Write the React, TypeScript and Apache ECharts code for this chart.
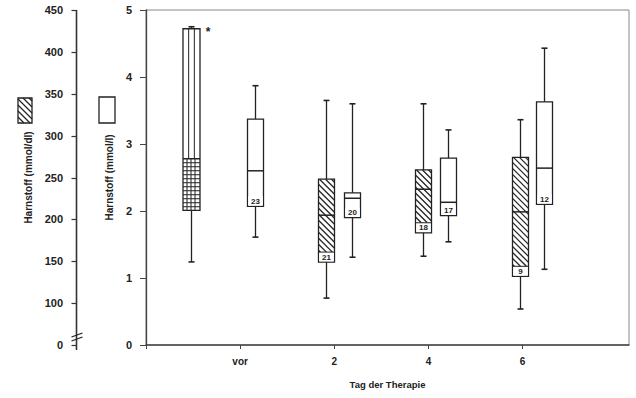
import React, { useEffect, useRef } from "react";
import * as echarts from "echarts";

// x-axis ticks / labels (value axis positions)
const dayLabels = ["vor", "2", "4", "6"];
const dayLabelPositions = [1, 2, 3, 4];
const dayTickPositions = [0, 1, 2, 3, 4];

// cross-hatched reference box (mmol/l): x, min, q1, median, q3, max
const refX = [0.48];
const refMin = [1.24];
const refQ1 = [2.01];
const refMedian = [2.78];
const refQ3 = [4.72];
const refMax = [4.75];
const refNote = "*";

// open boxes (right scale, mmol/l)
const openX = [1.16, 2.19, 3.21, 4.23];
const openMin = [1.61, 1.31, 1.54, 1.13];
const openQ1 = [2.07, 1.9, 1.93, 2.1];
const openMedian = [2.6, 2.19, 2.13, 2.64];
const openQ3 = [3.37, 2.27, 2.79, 3.63];
const openMax = [3.87, 3.6, 3.21, 4.43];
const openN = [23, 20, 17, 12];

// hatched boxes (left scale)
const hatchX = [1.91, 2.94, 3.97];
const hatchMin = [106, 156, 93];
const hatchQ1 = [149, 184, 132];
const hatchMedian = [205, 236, 209];
const hatchQ3 = [248, 259, 274];
const hatchMax = [342, 338, 319];
const hatchN = [21, 18, 9];

// left axis (break at the bottom: 50 is shown as 0)
const leftMin = 50;
const leftMax = 450;
const leftStep = 50;
const leftTicks = [50, 100, 150, 200, 250, 300, 350, 400, 450];

const INK = "#222";
const FONT = "'Liberation Sans', Arial, sans-serif";
const LEFT_OFFSET = 70;

function hatchSegs(x0: number, y0: number, x1: number, y1: number, step: number) {
  const segs: number[][] = [];
  for (let c = y0 - x1 + step / 2; c < y1 - x0; c += step) {
    const xa = Math.max(x0, y0 - c);
    const xb = Math.min(x1, y1 - c);
    if (xb > xa + 0.5) segs.push([xa, xa + c, xb, xb + c]);
  }
  return segs;
}

function lineEl(x1: number, y1: number, x2: number, y2: number, w = 1.2, color = INK, z?: number) {
  const el: any = {
    type: "line",
    shape: { x1, y1, x2, y2 },
    style: { stroke: color, lineWidth: w },
  };
  if (z !== undefined) el.z = z;
  return el;
}

function makeRender(kind: "ref" | "open" | "hatch") {
  return (params: any, api: any) => {
    const x = api.value(0);
    const pMin = api.coord([x, api.value(1)]);
    const pQ1 = api.coord([x, api.value(2)]);
    const pMed = api.coord([x, api.value(3)]);
    const pQ3 = api.coord([x, api.value(4)]);
    const pMax = api.coord([x, api.value(5)]);
    const n = kind === "ref" ? NaN : api.value(6);
    const cx = Math.round(pMed[0]) + 0.5;
    const w = kind === "ref" ? 17 : 16;
    const x0 = cx - w / 2;
    const x1 = cx + w / 2;
    const top = pQ3[1];
    const bot = pQ1[1];
    const med = pMed[1];
    const children: any[] = [];
    children.push(lineEl(cx, pMax[1], cx, top, 1.3));
    children.push(lineEl(cx, bot, cx, pMin[1], 1.3));
    children.push(lineEl(cx - 3, pMax[1], cx + 3, pMax[1], 1.6));
    children.push(lineEl(cx - 3, pMin[1], cx + 3, pMin[1], 1.6));
    children.push({
      type: "rect",
      shape: { x: x0, y: top, width: w, height: bot - top },
      style: { fill: "#fff", stroke: INK, lineWidth: 1.3 },
    });
    const labelH = 10;
    if (kind === "hatch") {
      hatchSegs(x0, top, x1, bot - labelH, 6).forEach((s) =>
        children.push(lineEl(s[0], s[1], s[2], s[3], 1.3))
      );
    }
    if (kind === "ref") {
      const cw = w / 3;
      children.push(lineEl(x0 + cw, top, x0 + cw, med, 1));
      children.push(lineEl(x0 + 2 * cw, top, x0 + 2 * cw, med, 1));
      for (let gx = x0 + 4; gx < x1 - 1; gx += 4) children.push(lineEl(gx, med, gx, bot, 1));
      for (let gy = med + 4; gy < bot - 1; gy += 4) children.push(lineEl(x0, gy, x1, gy, 1));
      children.push({
        type: "text",
        x: x1 + 8,
        y: top + 3,
        style: {
          text: refNote,
          fill: INK,
          font: `bold 12px ${FONT}`,
          align: "center",
          verticalAlign: "middle",
        },
      });
    }
    if (!isNaN(n)) {
      children.push({
        type: "rect",
        shape: { x: x0 + 0.8, y: bot - labelH, width: w - 1.6, height: labelH - 0.8 },
        style: { fill: "#fff" },
      });
      if (kind === "hatch") children.push(lineEl(x0, bot - labelH, x1, bot - labelH, 1));
      children.push({
        type: "text",
        x: cx,
        y: bot - labelH / 2,
        style: {
          text: String(n),
          fill: INK,
          font: `bold 8px ${FONT}`,
          align: "center",
          verticalAlign: "middle",
        },
      });
    }
    children.push(lineEl(x0, med, x1, med, 1.5));
    return { type: "group", children };
  };
}

export default function App() {
  const ref = useRef<HTMLDivElement>(null);
  useEffect(() => {
    document.body.style.margin = "0";
    if (!ref.current) return;
    const chart = echarts.init(ref.current, null, { renderer: "svg" });

    const refData = refX.map((x, i) => [x, refMin[i], refQ1[i], refMedian[i], refQ3[i], refMax[i]]);
    const openData = openX.map((x, i) => [x, openMin[i], openQ1[i], openMedian[i], openQ3[i], openMax[i], openN[i]]);
    const hatchData = hatchX.map((x, i) => [x, hatchMin[i], hatchQ1[i], hatchMedian[i], hatchQ3[i], hatchMax[i], hatchN[i]]);

    const labelFont = { fontFamily: FONT, fontWeight: "bold" as const, color: INK };

    chart.setOption({
      animation: false,
      grid: {
        left: 146,
        right: 7,
        top: 10,
        bottom: 53,
        show: true,
        borderColor: "#888",
        borderWidth: 1,
      },
      xAxis: {
        type: "value",
        min: 0,
        max: 5.13,
        interval: 1,
        splitLine: { show: false },
        axisLine: { show: true, onZero: false, lineStyle: { color: "#444", width: 1.5 } },
        axisTick: { show: true, length: 4, customValues: dayTickPositions, lineStyle: { color: "#444" } },
        axisLabel: {
          customValues: dayLabelPositions,
          formatter: (v: number) => {
            const i = dayLabelPositions.indexOf(v);
            return i >= 0 ? dayLabels[i] : "";
          },
          margin: 11,
          fontSize: 10,
          ...labelFont,
        },
        name: "Tag der Therapie",
        nameLocation: "middle",
        nameGap: 34,
        nameTextStyle: { fontSize: 9.5, ...labelFont },
      },
      yAxis: [
        {
          type: "value",
          min: 0,
          max: 5,
          interval: 1,
          splitLine: { show: false },
          axisLine: { show: true, onZero: false, lineStyle: { color: "#444", width: 1.3 } },
          axisTick: { show: true, length: 6, lineStyle: { color: "#444" } },
          axisLabel: { margin: 14, fontSize: 11, ...labelFont },
          name: "Harnstoff (mmol/l)",
          nameLocation: "middle",
          nameRotate: 90,
          nameGap: 32,
          nameTextStyle: { fontSize: 10, ...labelFont },
        },
        {
          type: "value",
          position: "left",
          offset: LEFT_OFFSET,
          min: leftMin,
          max: leftMax,
          interval: leftStep,
          splitLine: { show: false },
          axisLine: { show: false, onZero: false },
          axisTick: { show: false },
          axisLabel: {
            margin: 13,
            fontSize: 11,
            ...labelFont,
            formatter: (v: number) => (v === leftMin ? "0" : String(v)),
          },
          name: "Harnstoff (mmol/dl)",
          nameLocation: "middle",
          nameRotate: 90,
          nameGap: 43,
          nameTextStyle: { fontSize: 10, ...labelFont },
        },
      ],
      series: [
        {
          type: "custom",
          name: "Referenz",
          yAxisIndex: 0,
          data: refData,
          encode: { x: 0, y: [1, 2, 3, 4, 5] },
          renderItem: makeRender("ref"),
        },
        {
          type: "custom",
          name: "mmol/l",
          yAxisIndex: 0,
          data: openData,
          encode: { x: 0, y: [1, 2, 3, 4, 5] },
          renderItem: makeRender("open"),
        },
        {
          type: "custom",
          name: "mmol/dl",
          yAxisIndex: 1,
          data: hatchData,
          encode: { x: 0, y: [1, 2, 3, 4, 5] },
          renderItem: makeRender("hatch"),
        },
      ],
    });

    // left (offset) axis line + ticks, placed through the hatched series' (left) y scale
    const toPt = (v: number): number[] => {
      const p: any = chart.convertToPixel({ seriesIndex: 2 }, [0, v]);
      return Array.isArray(p) ? p : [NaN, NaN];
    };
    const pTop = toPt(leftMax);
    const pBot = toPt(leftMin);
    const ax = Math.round(pBot[0]) - LEFT_OFFSET + 0.5;
    const axisEls: any[] = [];
    if (isFinite(ax) && isFinite(pTop[1]) && isFinite(pBot[1])) {
      axisEls.push(lineEl(ax, pTop[1], ax, pBot[1] + 5, 1.6, "#333", 100));
      leftTicks.forEach((t) => {
        const y = Math.round(toPt(t)[1]) + 0.5;
        axisEls.push(lineEl(ax - 5, y, ax, y, 1.2, "#333", 100));
      });
    }
    const bx = isFinite(ax) ? ax : 76.5;
    const legendHatch = hatchSegs(18, 98, 32, 123, 6).map((s) => lineEl(s[0], s[1], s[2], s[3], 1.3));

    chart.setOption({
      graphic: [
        ...axisEls,
        lineEl(bx - 5, 337, bx + 6, 333, 1.3, INK, 101),
        lineEl(bx - 5, 341, bx + 6, 337, 1.3, INK, 101),
        {
          type: "rect",
          shape: { x: 18, y: 98, width: 14, height: 25 },
          style: { fill: "#fff", stroke: INK, lineWidth: 1.3 },
        },
        ...legendHatch,
        {
          type: "rect",
          shape: { x: 99, y: 97, width: 16, height: 26 },
          style: { fill: "#fff", stroke: INK, lineWidth: 1.3 },
        },
      ],
    });
    return () => chart.dispose();
  }, []);
  return (
    <div
      ref={ref}
      style={{ position: "fixed", left: 0, top: 0, width: 636, height: 398, background: "#fff" }}
    />
  );
}
